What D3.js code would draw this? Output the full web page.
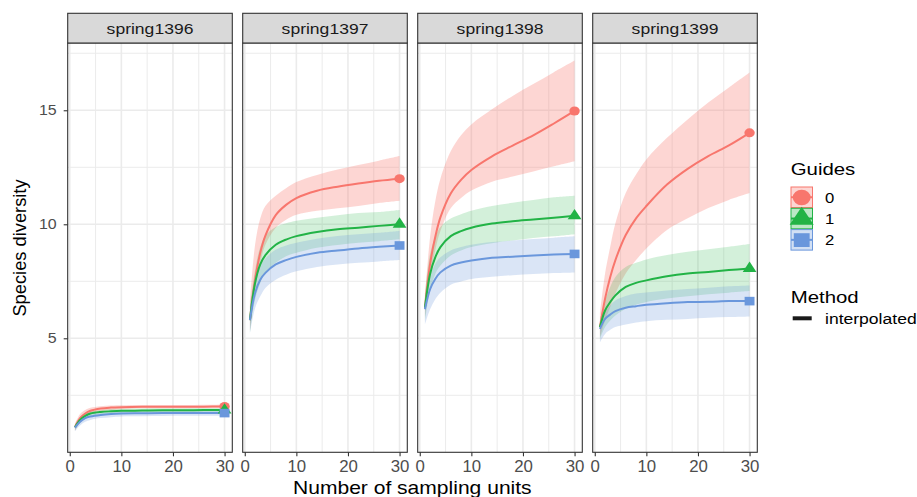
<!DOCTYPE html>
<html>
<head>
<meta charset="utf-8">
<script src="https://cdn.jsdelivr.net/npm/d3@7"></script>
<style>
body{margin:0;background:#fff}
svg{display:block;font-family:"Liberation Sans",Arial,sans-serif}
</style>
</head>
<body>
<svg id="chart" width="917" height="497"></svg>
<script>
// facets and groups
var seasons = ["spring1396","spring1397","spring1398","spring1399"];
var guides = ["0","1","2"];
// sampling units where the curves were read
var units = [1,2,3,4,6,8,10,14,18,22,26,30];
var xTicks = [0,10,20,30];
var yTicks = [5,10,15];

// estimates, one row per guide (0,1,2)
var est1396 = [
  [1.1,1.5,1.7,1.82,1.92,1.96,1.98,2.0,2.0,2.0,2.0,2.01],
  [1.1,1.42,1.6,1.7,1.77,1.8,1.82,1.83,1.84,1.84,1.85,1.85],
  [1.08,1.34,1.5,1.57,1.64,1.68,1.7,1.71,1.72,1.72,1.72,1.72]];
var lo1396 = [
  [0.95,1.32,1.55,1.68,1.8,1.86,1.9,1.93,1.93,1.93,1.94,1.94],
  [0.95,1.28,1.47,1.58,1.67,1.7,1.72,1.74,1.75,1.75,1.76,1.76],
  [0.92,1.18,1.34,1.42,1.5,1.54,1.57,1.58,1.59,1.6,1.6,1.6]];
var hi1396 = [
  [1.25,1.68,1.85,1.95,2.02,2.05,2.06,2.07,2.07,2.07,2.08,2.1],
  [1.22,1.55,1.72,1.8,1.86,1.9,1.91,1.92,1.93,1.93,1.94,1.94],
  [1.2,1.48,1.63,1.7,1.77,1.8,1.82,1.83,1.84,1.84,1.84,1.84]];

var est1397 = [
  [5.8,7.57,8.75,9.5,10.4,10.85,11.15,11.47,11.65,11.79,11.91,12.0],
  [5.8,7.43,8.24,8.65,9.1,9.33,9.48,9.66,9.78,9.85,9.93,10.0],
  [5.8,6.99,7.57,7.87,8.24,8.43,8.57,8.75,8.85,8.94,9.01,9.07]];
var lo1397 = [
  [5.3,7.1,8.3,9.1,9.85,10.2,10.42,10.59,10.7,10.8,10.93,11.03],
  [5.2,6.7,7.43,7.87,8.31,8.6,8.75,8.97,9.09,9.19,9.26,9.34],
  [5.2,6.32,6.84,7.21,7.57,7.79,7.94,8.13,8.24,8.31,8.37,8.43]];
var hi1397 = [
  [6.6,9.1,10.25,10.8,11.25,11.58,11.85,12.16,12.4,12.6,12.79,12.99],
  [6.4,8.0,9.0,9.5,9.88,10.04,10.15,10.29,10.4,10.49,10.54,10.63],
  [6.4,7.57,8.16,8.5,8.88,9.07,9.19,9.37,9.49,9.56,9.63,9.71]];

var est1398 = [
  [6.34,8.26,9.44,10.3,11.35,11.95,12.38,12.98,13.45,13.9,14.42,14.97],
  [6.34,7.82,8.55,9.0,9.48,9.7,9.85,10.03,10.13,10.21,10.29,10.37],
  [6.27,7.15,7.6,7.89,8.19,8.32,8.41,8.53,8.58,8.63,8.67,8.7]];
var lo1398 = [
  [5.9,7.67,8.85,9.7,10.7,11.15,11.48,11.87,12.09,12.32,12.54,12.76],
  [5.75,7.08,7.82,8.19,8.63,8.85,9.0,9.17,9.29,9.4,9.47,9.56],
  [5.6,6.27,6.71,7.0,7.35,7.49,7.6,7.7,7.77,7.82,7.86,7.89]];
var hi1398 = [
  [6.8,9.44,11.0,12.0,13.2,13.9,14.38,15.04,15.63,16.15,16.67,17.18],
  [6.93,8.7,9.44,9.88,10.25,10.44,10.59,10.8,10.94,11.06,11.18,11.25],
  [6.78,7.74,8.26,8.55,8.85,9.0,9.1,9.22,9.29,9.35,9.41,9.47]];

var est1399 = [
  [5.49,6.74,7.69,8.43,9.53,10.26,10.8,11.74,12.43,12.99,13.46,14.01],
  [5.49,6.22,6.59,6.88,7.25,7.43,7.54,7.72,7.84,7.91,7.99,8.06],
  [5.41,5.85,6.04,6.19,6.34,6.41,6.47,6.54,6.59,6.6,6.63,6.63]];
var lo1399 = [
  [5.04,5.78,6.37,6.96,7.84,8.43,8.94,9.75,10.26,10.71,11.07,11.37],
  [4.97,5.49,5.78,6.0,6.29,6.47,6.59,6.74,6.84,6.93,7.0,7.07],
  [4.82,5.19,5.37,5.49,5.6,5.69,5.75,5.81,5.85,5.9,5.93,5.96]];
var hi1399 = [
  [6.07,7.84,9.01,10.04,11.37,12.18,12.84,13.79,14.6,15.34,16.0,16.66],
  [5.78,6.66,7.25,7.69,8.13,8.31,8.46,8.65,8.79,8.9,9.01,9.13],
  [5.63,6.15,6.44,6.66,6.85,6.96,7.01,7.1,7.16,7.22,7.28,7.32]];

var estAll = [est1396,est1397,est1398,est1399];
var loAll = [lo1396,lo1397,lo1398,lo1399];
var hiAll = [hi1396,hi1397,hi1398,hi1399];

// layout
var colors = ["#F8766D","#22B346","#6A97DC"];
var ribbonAlpha = [0.3,0.2,0.25];
var shapes = [d3.symbolCircle,d3.symbolTriangle,d3.symbolSquare];
var shapeSize = [64,62,74];
var panelLeft0 = 67.7, panelStep = 175, panelW = 164.6;
var stripTop = 13.3, stripBottom = 43, panelBottom = 452.3;
var SX = 1.17; // the picture is a bit wide, text is stretched

var svg = d3.select("#chart");

var y = d3.scaleLinear().domain([0,17.95]).range([panelBottom,stripBottom]);

function txt(parent, x, yy, str, size, anchor, sx, color){
  return parent.append("text")
    .attr("transform","translate("+x+","+yy+") scale("+sx+",1)")
    .attr("text-anchor",anchor)
    .style("font-size",size+"px")
    .attr("fill",color || "#000")
    .text(str);
}

seasons.forEach(function(s,p){
  var left = panelLeft0 + p*panelStep;
  var x = d3.scaleLinear().domain([-0.4,31.5]).range([left,left+panelW]);
  var g = svg.append("g");

  // grid
  g.selectAll(".yminor").data([2.5,7.5,12.5,17.5]).join("line")
    .attr("x1",left).attr("x2",left+panelW)
    .attr("y1",function(d){return y(d);}).attr("y2",function(d){return y(d);})
    .attr("stroke","#EBEBEB").attr("stroke-width",1);
  g.selectAll(".xminor").data([5,15,25]).join("line")
    .attr("x1",function(d){return x(d);}).attr("x2",function(d){return x(d);})
    .attr("y1",stripBottom).attr("y2",panelBottom)
    .attr("stroke","#EBEBEB").attr("stroke-width",1);
  g.selectAll(".ymajor").data(yTicks).join("line")
    .attr("x1",left).attr("x2",left+panelW)
    .attr("y1",function(d){return y(d);}).attr("y2",function(d){return y(d);})
    .attr("stroke","#EBEBEB").attr("stroke-width",1.6);
  g.selectAll(".xmajor").data(xTicks).join("line")
    .attr("x1",function(d){return x(d);}).attr("x2",function(d){return x(d);})
    .attr("y1",stripBottom).attr("y2",panelBottom)
    .attr("stroke","#EBEBEB").attr("stroke-width",1.6);

  var area = d3.area()
    .x(function(d){return x(d.t);})
    .y0(function(d){return y(d.lo);})
    .y1(function(d){return y(d.hi);})
    .curve(d3.curveCatmullRom.alpha(0.5));
  var line = d3.line()
    .x(function(d){return x(d.t);})
    .y(function(d){return y(d.v);})
    .curve(d3.curveCatmullRom.alpha(0.5));

  var series = guides.map(function(gd,k){
    return units.map(function(t,i){
      return {t:t, v:estAll[p][k][i], lo:loAll[p][k][i], hi:hiAll[p][k][i]};
    });
  });

  //ribbons
  g.selectAll(".rib").data(series).join("path")
    .attr("d",area)
    .attr("fill",function(d,k){return colors[k];})
    .attr("fill-opacity",function(d,k){return ribbonAlpha[k];});
  //lines
  g.selectAll(".ln").data(series).join("path")
    .attr("d",line)
    .attr("fill","none")
    .attr("stroke",function(d,k){return colors[k];})
    .attr("stroke-width",2);
  //end points
  g.selectAll(".pt").data(series).join("path")
    .attr("d",function(d,k){return d3.symbol().type(shapes[k]).size(shapeSize[k])();})
    .attr("transform",function(d){
      var last = d[d.length-1];
      return "translate("+x(last.t)+","+y(last.v)+") scale(1.15,1)";
    })
    .attr("fill",function(d,k){return colors[k];});

  // border
  g.append("rect")
    .attr("x",left).attr("y",stripBottom)
    .attr("width",panelW).attr("height",panelBottom-stripBottom)
    .attr("fill","none").attr("stroke","#333").attr("stroke-width",1.1);

  // strip
  g.append("rect")
    .attr("x",left).attr("y",stripTop)
    .attr("width",panelW).attr("height",stripBottom-stripTop)
    .attr("fill","#D9D9D9").attr("stroke","#333").attr("stroke-width",1.1);
  txt(g, left+panelW/2, 33.5, s, 15, "middle", SX, "#1A1A1A");

  // x axis
  var xa = g.append("g")
    .attr("transform","translate(0,"+panelBottom+")")
    .call(d3.axisBottom(x).tickValues(xTicks).tickSize(4).tickPadding(4.7));
  xa.select(".domain").remove();
  xa.selectAll(".tick line").attr("stroke","#333").attr("stroke-width",1.1);
  xa.selectAll(".tick text")
    .attr("fill","#4D4D4D")
    .style("font-size","16px")
    .style("font-family","'Liberation Sans',Arial,sans-serif")
    .attr("transform","scale(1.05,1)");

  if(p==0){
    var ya = g.append("g")
      .attr("transform","translate("+left+",0)")
      .call(d3.axisLeft(y).tickValues(yTicks).tickSize(4).tickPadding(6));
    ya.select(".domain").remove();
    ya.selectAll(".tick line").attr("stroke","#333").attr("stroke-width",1.1);
    ya.selectAll(".tick text")
      .attr("fill","#4D4D4D")
      .style("font-size","14.5px")
      .style("font-family","'Liberation Sans',Arial,sans-serif")
      .attr("transform","scale(1.1,1)");
  }
});

// axis titles
txt(svg, 412.3, 494, "Number of sampling units", 18, "middle", SX);
svg.append("text")
  .attr("transform","translate(25.5,248) rotate(-90)")
  .attr("text-anchor","middle")
  .style("font-size","18.3px")
  .text("Species diversity");

// legend
var leg = svg.append("g");
txt(leg, 790.7, 175, "Guides", 17, "start", 1.2);
guides.forEach(function(gd,k){
  var ky = 187 + k*21.3;
  leg.append("rect")
    .attr("x",791).attr("y",ky).attr("width",21.5).attr("height",20.5)
    .attr("fill",colors[k]).attr("fill-opacity",0.3)
    .attr("stroke",colors[k]).attr("stroke-width",1);
  leg.append("line")
    .attr("x1",791).attr("x2",812.5).attr("y1",ky+10.25).attr("y2",ky+10.25)
    .attr("stroke",colors[k]).attr("stroke-width",2);
  leg.append("path")
    .attr("d",d3.symbol().type(shapes[k]).size(190)())
    .attr("transform","translate(801.7,"+(ky+10.5)+") scale(1.15,1)")
    .attr("fill",colors[k]);
  txt(leg, 825, ky+15.5, gd, 14.5, "start", 1.15);
});
txt(leg, 790.7, 303.3, "Method", 17, "start", 1.2);
leg.append("line")
  .attr("x1",792.7).attr("x2",811.7).attr("y1",318.3).attr("y2",318.3)
  .attr("stroke","#1A1A1A").attr("stroke-width",4);
txt(leg, 825, 323.5, "interpolated", 15, "start", SX);
</script>
</body>
</html>
